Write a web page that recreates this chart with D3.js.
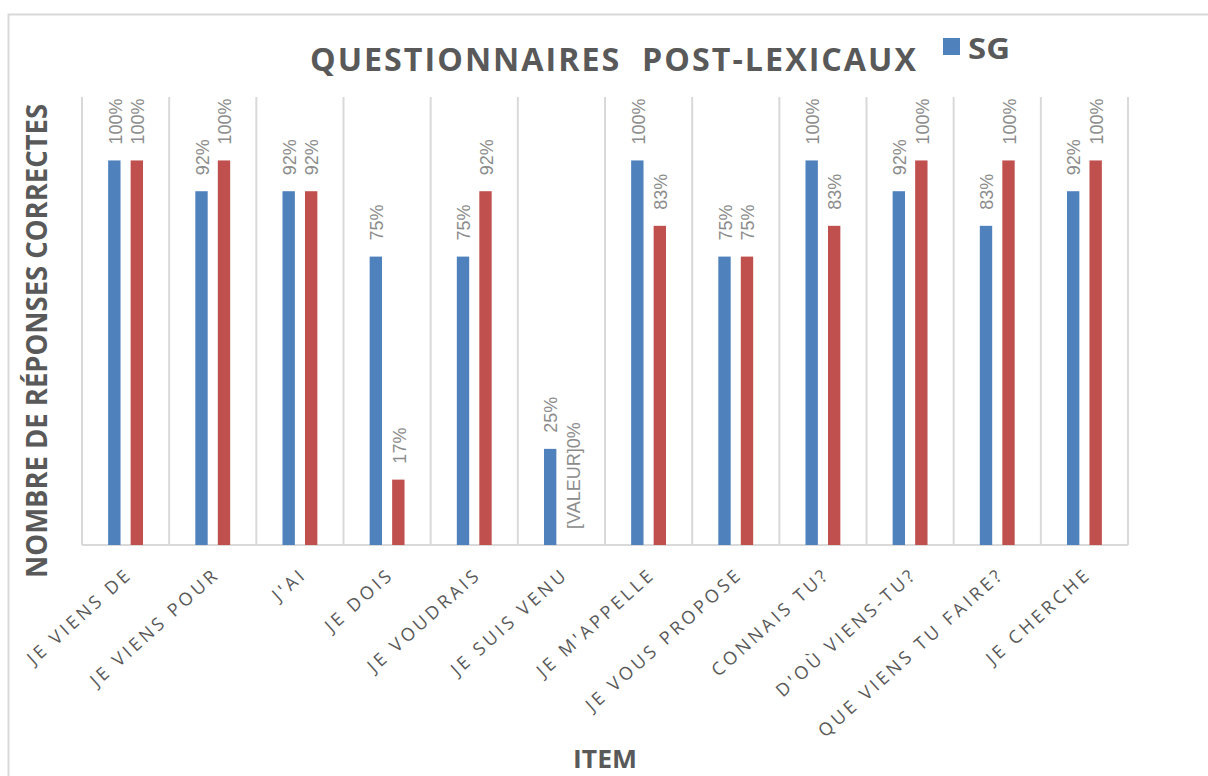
<!DOCTYPE html>
<html>
<head>
<meta charset="utf-8">
<script src="https://cdn.jsdelivr.net/npm/d3@7"></script>
<style>
	body { margin: 0; background: #fff; }
	svg { display: block; }
</style>
</head>
<body>
<svg id="chart"></svg>
<script>

var items = ["JE VIENS DE", "JE VIENS POUR", "J'AI", "JE DOIS", "JE VOUDRAIS", "JE SUIS VENU",
	"JE M'APPELLE", "JE VOUS PROPOSE", "CONNAIS TU?", "D'OÙ VIENS-TU?", "QUE VIENS TU FAIRE?", "JE CHERCHE"];
var seriesNames = ["SG", "S2"];
var sgValues = [1.00, 0.92, 0.92, 0.75, 0.75, 0.25, 1.00, 0.75, 1.00, 0.92, 0.83, 0.92];
var s2Values = [1.00, 1.00, 0.92, 0.17, 0.92, 0.00, 0.83, 0.75, 0.83, 1.00, 1.00, 1.00];
var s2LabelText = ["", "", "", "", "", "[VALEUR]0%", "", "", "", "", "", ""];
var yMax = 1.165;

var pageWidth = 1208;
var pageHeight = 776;
var plot = { left: 82, right: 1128, top: 97, bottom: 545 };
var gridColor = "#d9d9d9";
var colors = ["#4f81bd", "#c0504d"];
var fmt = d3.format(".0%");

var svg = d3.select("#chart")
	.attr("width", pageWidth)
	.attr("height", pageHeight);

// outer frame (only top and left edges visible)
svg.append("path")
	.attr("d", "M8.5,776 L8.5,14.5 L1208,14.5")
	.attr("fill", "none")
	.attr("stroke", gridColor)
	.attr("stroke-width", 2);

var xScale = d3.scaleBand()
	.domain(items)
	.range([plot.left, plot.right]);

var bw = xScale.bandwidth();

var xInner = d3.scaleBand()
	.domain(seriesNames)
	.range([bw * 0.3, bw * 0.7])
	.paddingInner(0.45);

var yScale = d3.scaleLinear()
	.domain([0, yMax])
	.range([plot.bottom, plot.top]);

// vertical category gridlines
var bounds = items.map(function(d) { return xScale(d); }).concat([plot.right]);
svg.append("g")
	.selectAll("line")
	.data(bounds)
	.enter().append("line")
		.attr("x1", function(d) { return d; })
		.attr("x2", function(d) { return d; })
		.attr("y1", plot.top)
		.attr("y2", plot.bottom)
		.attr("stroke", gridColor)
		.attr("stroke-width", 2);

// bottom axis line
svg.append("line")
	.attr("x1", plot.left)
	.attr("x2", plot.right)
	.attr("y1", plot.bottom)
	.attr("y2", plot.bottom)
	.attr("stroke", gridColor)
	.attr("stroke-width", 2);

var rows = items.map(function(d, i) {
	return [
		{ item: d, series: seriesNames[0], value: sgValues[i], label: fmt(sgValues[i]) },
		{ item: d, series: seriesNames[1], value: s2Values[i], label: s2LabelText[i] || fmt(s2Values[i]) }
	];
});
var flat = [].concat.apply([], rows);

function barX(d) { return xScale(d.item) + xInner(d.series); }

svg.append("g")
	.selectAll("rect")
	.data(flat)
	.enter().append("rect")
		.attr("x", barX)
		.attr("y", function(d) { return yScale(d.value); })
		.attr("width", xInner.bandwidth())
		.attr("height", function(d) { return plot.bottom - yScale(d.value); })
		.attr("fill", function(d) { return colors[seriesNames.indexOf(d.series)]; });

// data labels, rotated
svg.append("g")
	.selectAll("text")
	.data(flat)
	.enter().append("text")
		.attr("transform", function(d) {
			var cx = barX(d) + xInner.bandwidth() / 2 + 1;
			var cy = yScale(d.value) - 16;
			return "translate(" + cx + "," + cy + ") rotate(-90)";
		})
		.attr("dy", "0.35em")
		.attr("text-anchor", "start")
		.attr("font-family", "Liberation Sans, Arial, sans-serif")
		.attr("font-size", 18)
		.attr("fill", "#8c8c8c")
		.text(function(d) { return d.label; });

// category labels
svg.append("g")
	.selectAll("text")
	.data(items)
	.enter().append("text")
		.attr("transform", function(d) {
			return "translate(" + (xScale(d) + bw / 2 + 8) + ",576) rotate(-42)";
		})
		.attr("text-anchor", "end")
		.attr("font-family", "Open Sans, sans-serif")
		.attr("font-size", 18)
		.attr("letter-spacing", 3.4)
		.attr("fill", "#595959")
		.text(function(d) { return d; });

// title
svg.append("text")
	.attr("x", 310)
	.attr("y", 71)
	.attr("textLength", 608)
	.attr("lengthAdjust", "spacingAndGlyphs")
	.attr("font-family", "Open Sans, sans-serif")
	.attr("font-weight", "bold")
	.attr("font-size", 32)
	.attr("letter-spacing", 2)
	.attr("fill", "#595959")
	.text("QUESTIONNAIRES\u00a0 POST-LEXICAUX");

// legend (only first series is visible)
svg.append("rect")
	.attr("x", 943)
	.attr("y", 38)
	.attr("width", 17)
	.attr("height", 17)
	.attr("fill", colors[0]);

svg.append("text")
	.attr("x", 968)
	.attr("y", 59)
	.attr("textLength", 42)
	.attr("lengthAdjust", "spacingAndGlyphs")
	.attr("font-family", "Open Sans, sans-serif")
	.attr("font-weight", "bold")
	.attr("font-size", 29)
	.attr("fill", "#595959")
	.text(seriesNames[0]);

// axis titles
svg.append("text")
	.attr("transform", "translate(47,341) rotate(-90)")
	.attr("text-anchor", "middle")
	.attr("textLength", 474)
	.attr("lengthAdjust", "spacingAndGlyphs")
	.attr("font-family", "Open Sans, sans-serif")
	.attr("font-weight", "bold")
	.attr("font-size", 29)
	.attr("fill", "#595959")
	.text("NOMBRE DE RÉPONSES CORRECTES");

svg.append("text")
	.attr("x", 605)
	.attr("y", 768)
	.attr("text-anchor", "middle")
	.attr("textLength", 64)
	.attr("lengthAdjust", "spacingAndGlyphs")
	.attr("font-family", "Open Sans, sans-serif")
	.attr("font-weight", "bold")
	.attr("font-size", 25)
	.attr("fill", "#595959")
	.text("ITEM");

</script>
</body>
</html>
